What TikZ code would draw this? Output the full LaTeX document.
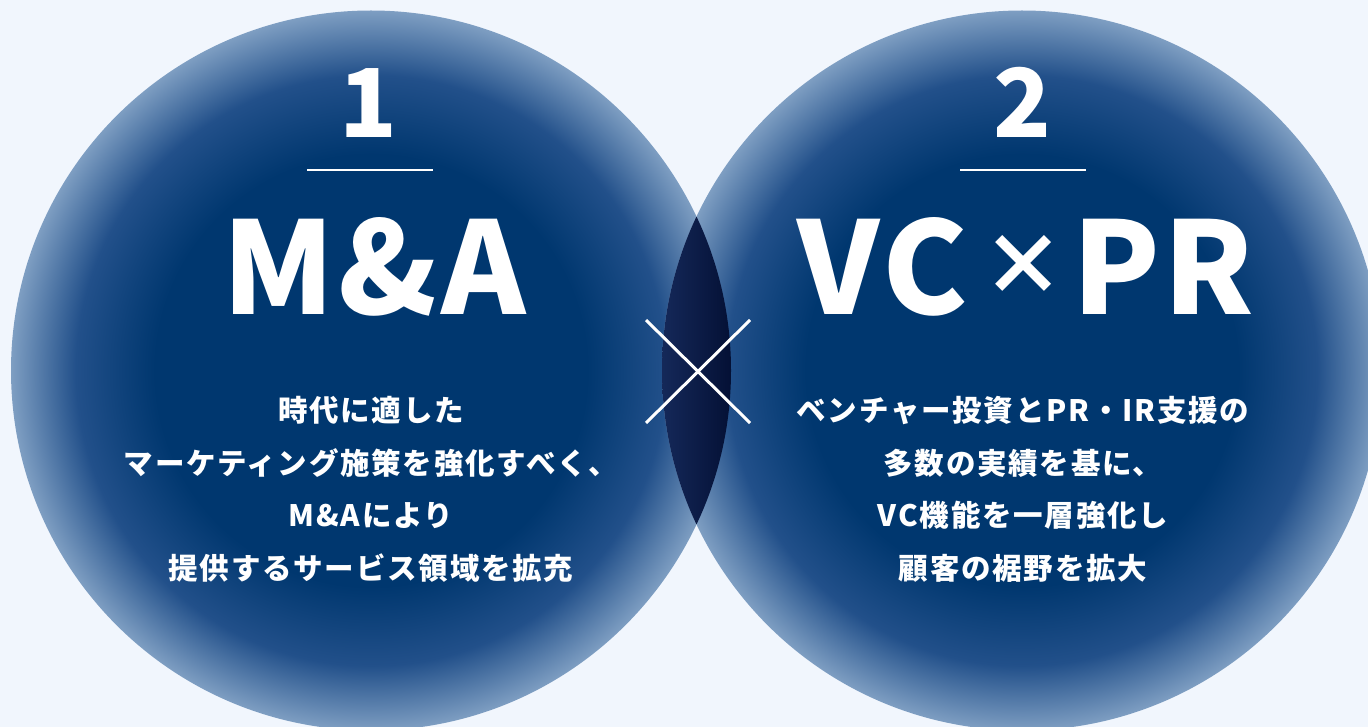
\documentclass[tikz,border=0pt]{standalone}
\usepackage{fontspec}
\newfontfamily\jp{Noto Sans CJK JP}
\usetikzlibrary{calc}
\definecolor{bgc}{HTML}{F1F6FD}
\definecolor{navy}{HTML}{00376F}
\definecolor{navymid}{HTML}{22508A}
\definecolor{rim}{HTML}{7E9EC2}
\definecolor{lensL}{HTML}{15295A}
\definecolor{lensR}{HTML}{030F33}
\pgfdeclareradialshading{circglow}{\pgfpoint{0bp}{0bp}}{%
  color(0bp)=(navy); color(15bp)=(navy); color(20.5bp)=(navymid);
  color(25bp)=(rim); color(50bp)=(rim)}
\tikzset{
  disc/.style={shading=circglow},
  numtxt/.style={text=white, inner sep=0pt, anchor=base, font=\jp\bfseries\fontsize{95}{95}\selectfont},
  headtxt/.style={text=white, inner sep=0pt, anchor=base, font=\jp\bfseries\fontsize{128}{128}\selectfont\addfontfeatures{LetterSpace=3}},
  timestxt/.style={text=white, inner sep=0pt, anchor=base, font=\jp\bfseries\fontsize{84}{84}\selectfont},
  bodytxt/.style={text=white, inner sep=0pt, anchor=base, font=\jp\bfseries\fontsize{29.5}{29.5}\selectfont\addfontfeatures{LetterSpace=6}},
  rule/.style={draw=white, line width=1.2pt},
  cross/.style={draw=white, line width=3pt}
}
\begin{document}
\begin{tikzpicture}[x=1pt,y=-1pt]
\fill[bgc] (0,0) rectangle (1368,727);
\useasboundingbox (0,0) rectangle (1368,727);
\coordinate (cl) at (371,370.5);
\coordinate (cr) at (1022,370.5);
\shade[disc] (cl) circle (360pt);
\shade[disc] (cr) circle (360pt);
\begin{scope}
  \clip (cl) circle (360pt);
  \clip (cr) circle (360pt);
  \shade[left color=lensL, right color=lensR] (660,200) rectangle (735,540);
\end{scope}
% central cross
\coordinate (xa) at (646,320);
\coordinate (xb) at (750,423);
\coordinate (xc) at (646,423);
\coordinate (xd) at (750,320);
\draw[cross] (xa) -- (xb);
\draw[cross] (xc) -- (xd);
% left circle
\node[numtxt] (n1) at (368,138) {1};
\coordinate (r1a) at (307,170);
\coordinate (r1b) at (433,170);
\draw[rule] (r1a) -- (r1b);
\node[headtxt] (h1) at (374,315) {M\&A};
\node[bodytxt] (l1) at (371,421) {時代に適した};
\node[bodytxt] (l2) at (371,474) {マーケティング施策を強化すべく、};
\node[bodytxt] (l3) at (371,526) {M\&Aにより};
\node[bodytxt] (l4) at (371,579) {提供するサービス領域を拡充};
% right circle
\node[numtxt] (n2) at (1022,138) {2};
\coordinate (r2a) at (960,170);
\coordinate (r2b) at (1086,170);
\draw[rule] (r2a) -- (r2b);
\node[headtxt, anchor=base east] (h2a) at (968,315) {VC};
\node[timestxt] (h2x) at (1023,296) {×};
\node[headtxt, anchor=base west] (h2b) at (1072,315) {PR};
\node[bodytxt] (m1) at (1023,421) {ベンチャー投資とPR・IR支援の};
\node[bodytxt] (m2) at (1023,474) {多数の実績を基に、};
\node[bodytxt] (m3) at (1023,526) {VC機能を一層強化し};
\node[bodytxt] (m4) at (1023,579) {顧客の裾野を拡大};
\end{tikzpicture}
\end{document}
